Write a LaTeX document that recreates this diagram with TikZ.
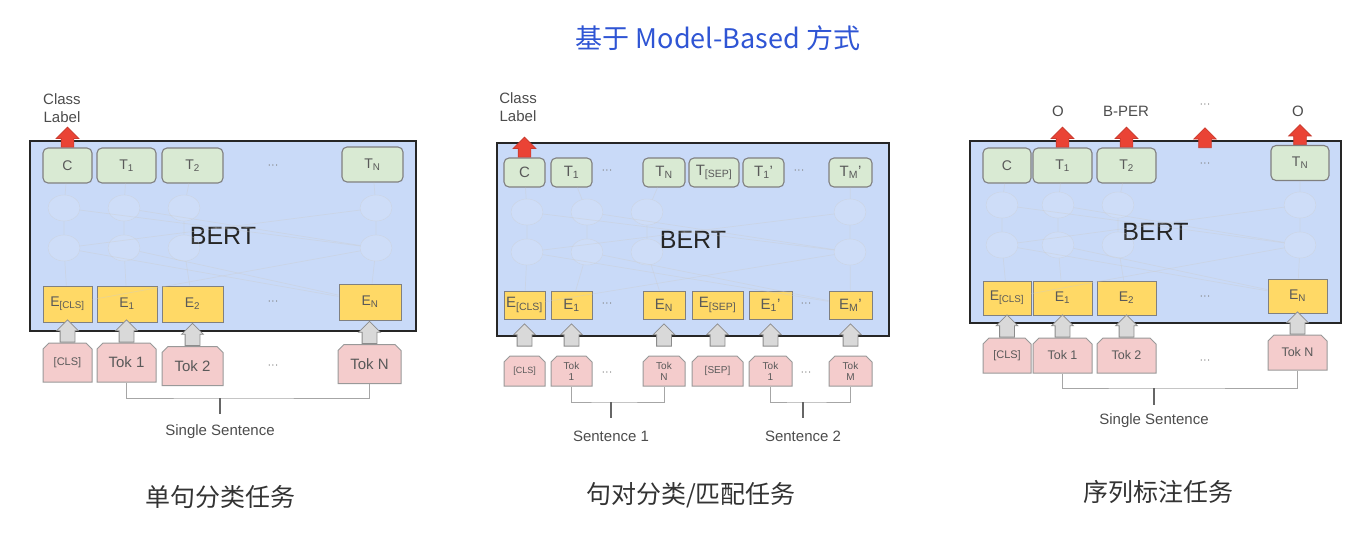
\documentclass[tikz,border=0pt]{standalone}
\usepackage{fontspec}
\setmainfont{Liberation Sans}
\newfontfamily\cjk{Noto Sans CJK SC}
\usetikzlibrary{
	shapes.misc,
	shapes.geometric,
	shapes.arrows,
	calc}

\definecolor{bertblue}{HTML}{C9DAF8}
\definecolor{outgreen}{HTML}{D9EAD3}
\definecolor{embyellow}{HTML}{FFD966}
\definecolor{tokpink}{HTML}{F4CCCC}
\definecolor{labred}{HTML}{EA4335}
\definecolor{titleblue}{HTML}{2F55D4}

\tikzset{
	bert/.style={draw=black!85, line width=2pt, fill=bertblue, text=black!85, font=\fontsize{25}{28}\selectfont},
	outbox/.style={draw=black!50, line width=1.1pt, fill=outgreen, rounded corners=5pt, text=black!65, inner sep=0pt},
	embbox/.style={draw=black!50, line width=1pt, fill=embyellow, text=black!65, inner sep=0pt},
	tokbox/.style={chamfered rectangle, chamfered rectangle corners={north west,north east}, chamfered rectangle xsep=3pt, chamfered rectangle ysep=3pt, draw=black!40, line width=1pt, fill=tokpink, text=black!65, inner sep=0pt, align=center},
	cell/.style={ellipse, draw=black!20, draw opacity=.5, fill=white, fill opacity=.1, minimum width=32pt, minimum height=26pt},
	net/.style={draw=black!20, draw opacity=.4, line width=.7pt},
	garrow/.style={single arrow, shape border rotate=90, draw=black!45, fill=black!15, line width=.8pt, inner sep=7pt, minimum height=20pt, single arrow head extend=3.5pt},
	rarrow/.style={single arrow, shape border rotate=90, draw=labred!85!black, fill=labred, line width=.6pt, inner sep=6pt, minimum height=20pt, single arrow head extend=5pt},
	brk/.style={draw=black!35, line width=1pt},
	stem/.style={draw=black!60, line width=1.6pt},
	lbl/.style={text=black!70, font=\fontsize{15}{18}\selectfont, align=center},
	dots/.style={text=black!50, font=\fontsize{11}{12}\selectfont},
	task/.style={text=black!80, font=\cjk\fontsize{25}{28}\selectfont}
}

\begin{document}
\begin{tikzpicture}[x=1pt,y=-1pt]
	\useasboundingbox (0,0) rectangle (1358,558);

	% Title
	\node[text=titleblue, font=\cjk\fontsize{27}{30}\selectfont] (title) at (718,38) {基于 Model-Based 方式};

	% Single sentence classification
	\node[bert, minimum width=386pt, minimum height=190pt] (s-bert) at (223,236) {BERT};

	\node[outbox, minimum width=49pt, minimum height=35pt, font=\fontsize{14}{16}\selectfont] (s-c)  at (67.5,165.5)  {C};
	\node[outbox, minimum width=59pt, minimum height=35pt, font=\fontsize{14}{16}\selectfont] (s-t1) at (126.5,165.5) {T\textsubscript{1}};
	\node[outbox, minimum width=61pt, minimum height=35pt, font=\fontsize{14}{16}\selectfont] (s-t2) at (192.5,165.5) {T\textsubscript{2}};
	\node[dots] (s-td) at (273,167) {···};
	\node[outbox, minimum width=61pt, minimum height=35pt, font=\fontsize{14}{16}\selectfont] (s-tn) at (372.5,164.5) {T\textsubscript{N}};

	\node[embbox, minimum width=49pt, minimum height=36pt, font=\fontsize{14}{16}\selectfont] (s-e0) at (67.5,304) {E\textsubscript{[CLS]}};
	\node[embbox, minimum width=60pt, minimum height=36pt, font=\fontsize{14}{16}\selectfont] (s-e1) at (127,304)   {E\textsubscript{1}};
	\node[embbox, minimum width=61pt, minimum height=36pt, font=\fontsize{14}{16}\selectfont] (s-e2) at (192.5,304) {E\textsubscript{2}};
	\node[dots] (s-ed) at (273,303) {···};
	\node[embbox, minimum width=62pt, minimum height=36pt, font=\fontsize{14}{16}\selectfont] (s-en) at (370,302)   {E\textsubscript{N}};

	\node[tokbox, minimum width=49pt, minimum height=39pt, font=\fontsize{11}{12}\selectfont] (s-k0) at (67.5,362.5)  {[CLS]};
	\node[tokbox, minimum width=59pt, minimum height=39pt, font=\fontsize{15}{17}\selectfont] (s-k1) at (126.5,362.5) {Tok 1};
	\node[tokbox, minimum width=61pt, minimum height=39pt, font=\fontsize{15}{17}\selectfont] (s-k2) at (192.5,366)   {Tok 2};
	\node[dots] (s-kd) at (273,367) {···};
	\node[tokbox, minimum width=63pt, minimum height=39pt, font=\fontsize{15}{17}\selectfont] (s-kn) at (369.5,364)   {Tok N};

	\node[cell] (s-u0) at (64,208) {};
	\node[cell] (s-u1) at (124,208) {};
	\node[cell] (s-u2) at (184,208) {};
	\node[cell] (s-un) at (376,208) {};
	\node[cell] (s-l0) at (64,248) {};
	\node[cell] (s-l1) at (124,248) {};
	\node[cell] (s-l2) at (184,248) {};
	\node[cell] (s-ln) at (376,248) {};

	\draw[net] (s-c)  -- (s-u0) -- (s-l0) -- (s-e0);
	\draw[net] (s-t1) -- (s-u1) -- (s-l1) -- (s-e1);
	\draw[net] (s-t2) -- (s-u2) -- (s-l2) -- (s-e2);
	\draw[net] (s-tn) -- (s-un) -- (s-ln) -- (s-en);
	\draw[net] (s-u0) -- (s-ln);
	\draw[net] (s-un) -- (s-l0);
	\draw[net] (s-u1) -- (s-ln);
	\draw[net] (s-l0) -- (s-en);
	\draw[net] (s-ln) -- (s-e0);
	\draw[net] (s-l1) -- (s-en);

	\node[garrow, anchor=tail] (s-g0) at (s-k0.north) {};
	\node[garrow, anchor=tail] (s-g1) at (s-k1.north) {};
	\node[garrow, anchor=tail] (s-g2) at (s-k2.north) {};
	\node[garrow, anchor=tail] (s-gn) at (s-kn.north) {};

	\node[rarrow, anchor=tail] (s-r0) at (s-c.north) {};
	\node[lbl] (s-cls) at (62,108) {Class\\Label};

	\coordinate (s-j)  at (220,398);
	\coordinate (s-jb) at (220,414);
	\draw[brk]  (s-k1.south) |- (s-j) -| (s-kn.south);
	\draw[stem] (s-j) -- (s-jb);
	\node[lbl] (s-sent) at (220,432) {Single Sentence};

	\node[task] (s-task) at (220,497) {单句分类任务};

	% Sentence pair classification
	\node[bert, minimum width=392pt, minimum height=193pt] (p-bert) at (693,239.5) {BERT};

	\node[outbox, minimum width=41pt, minimum height=29pt, font=\fontsize{15}{16}\selectfont] (p-c)    at (524.5,172.5) {C};
	\node[outbox, minimum width=41pt, minimum height=29pt, font=\fontsize{15}{16}\selectfont] (p-t1)   at (571.5,172.5) {T\textsubscript{1}};
	\node[dots] (p-td1) at (607,172) {···};
	\node[outbox, minimum width=42pt, minimum height=29pt, font=\fontsize{15}{16}\selectfont] (p-tn)   at (664,172.5)   {T\textsubscript{N}};
	\node[outbox, minimum width=50pt, minimum height=29pt, font=\fontsize{15}{16}\selectfont] (p-tsep) at (714,172.5)   {T\textsubscript{[SEP]}};
	\node[outbox, minimum width=41pt, minimum height=29pt, font=\fontsize{15}{16}\selectfont] (p-t1b)  at (763.5,172.5) {T\textsubscript{1}'};
	\node[dots] (p-td2) at (799,172) {···};
	\node[outbox, minimum width=43pt, minimum height=29pt, font=\fontsize{15}{16}\selectfont] (p-tm)   at (850.5,172.5) {T\textsubscript{M}'};

	\node[embbox, minimum width=41pt, minimum height=28pt, font=\fontsize{15}{16}\selectfont] (p-e0)   at (524.5,305) {E\textsubscript{[CLS]}};
	\node[embbox, minimum width=41pt, minimum height=28pt, font=\fontsize{15}{16}\selectfont] (p-e1)   at (571.5,305) {E\textsubscript{1}};
	\node[dots] (p-ed1) at (607,305) {···};
	\node[embbox, minimum width=42pt, minimum height=28pt, font=\fontsize{15}{16}\selectfont] (p-en)   at (664,305)   {E\textsubscript{N}};
	\node[embbox, minimum width=51pt, minimum height=28pt, font=\fontsize{15}{16}\selectfont] (p-esep) at (717.5,305) {E\textsubscript{[SEP]}};
	\node[embbox, minimum width=43pt, minimum height=28pt, font=\fontsize{15}{16}\selectfont] (p-e1b)  at (770.5,305) {E\textsubscript{1}'};
	\node[dots] (p-ed2) at (806,305) {···};
	\node[embbox, minimum width=43pt, minimum height=28pt, font=\fontsize{15}{16}\selectfont] (p-em)   at (850.5,305) {E\textsubscript{M}'};

	\node[tokbox, minimum width=41pt, minimum height=30pt, font=\fontsize{9}{11}\selectfont]  (p-k0)   at (524.5,371) {[CLS]};
	\node[tokbox, minimum width=41pt, minimum height=30pt, font=\fontsize{10}{11}\selectfont] (p-k1)   at (571.5,371) {Tok\\1};
	\node[dots] (p-kd1) at (607,374) {···};
	\node[tokbox, minimum width=42pt, minimum height=30pt, font=\fontsize{10}{11}\selectfont] (p-kn)   at (664,371)   {Tok\\N};
	\node[tokbox, minimum width=51pt, minimum height=30pt, font=\fontsize{10}{11}\selectfont] (p-ksep) at (717.5,371) {[SEP]};
	\node[tokbox, minimum width=43pt, minimum height=30pt, font=\fontsize{10}{11}\selectfont] (p-k1b)  at (770.5,371) {Tok\\1};
	\node[dots] (p-kd2) at (806,374) {···};
	\node[tokbox, minimum width=43pt, minimum height=30pt, font=\fontsize{10}{11}\selectfont] (p-km)   at (850.5,371) {Tok\\M};

	\node[cell] (p-u0) at (527,212) {};
	\node[cell] (p-u1) at (587,212) {};
	\node[cell] (p-u2) at (647,212) {};
	\node[cell] (p-um) at (850,212) {};
	\node[cell] (p-l0) at (527,252) {};
	\node[cell] (p-l1) at (587,252) {};
	\node[cell] (p-l2) at (647,252) {};
	\node[cell] (p-lm) at (850,252) {};

	\draw[net] (p-c)  -- (p-u0) -- (p-l0) -- (p-e0);
	\draw[net] (p-t1) -- (p-u1) -- (p-l1) -- (p-e1);
	\draw[net] (p-tn) -- (p-u2) -- (p-l2) -- (p-en);
	\draw[net] (p-tm) -- (p-um) -- (p-lm) -- (p-em);
	\draw[net] (p-u0) -- (p-lm);
	\draw[net] (p-um) -- (p-l0);
	\draw[net] (p-u1) -- (p-lm);
	\draw[net] (p-l0) -- (p-em);
	\draw[net] (p-lm) -- (p-e0);
	\draw[net] (p-l1) -- (p-em);

	\node[garrow, anchor=tail] (p-g0)   at ([yshift=9pt]p-k0.north)   {};
	\node[garrow, anchor=tail] (p-g1)   at ([yshift=9pt]p-k1.north)   {};
	\node[garrow, anchor=tail] (p-gn)   at ([yshift=9pt]p-kn.north)   {};
	\node[garrow, anchor=tail] (p-gsep) at ([yshift=9pt]p-ksep.north) {};
	\node[garrow, anchor=tail] (p-g1b)  at ([yshift=9pt]p-k1b.north)  {};
	\node[garrow, anchor=tail] (p-gm)   at ([yshift=9pt]p-km.north)   {};

	\node[rarrow, anchor=tail] (p-r0) at (p-c.north) {};
	\node[lbl] (p-cls) at (518,107) {Class\\Label};

	\coordinate (p-j1)  at (611,402);
	\coordinate (p-j1b) at (611,418);
	\draw[brk]  (p-k1.south) |- (p-j1) -| (p-kn.south);
	\draw[stem] (p-j1) -- (p-j1b);
	\node[lbl] (p-sent1) at (611,436) {Sentence 1};

	\coordinate (p-j2)  at (803,402);
	\coordinate (p-j2b) at (803,418);
	\draw[brk]  (p-k1b.south) |- (p-j2) -| (p-km.south);
	\draw[stem] (p-j2) -- (p-j2b);
	\node[lbl] (p-sent2) at (803,436) {Sentence 2};

	\node[task] (p-task) at (691,495) {句对分类/匹配任务};

	% Sequence labelling
	\node[bert, minimum width=371pt, minimum height=182pt] (q-bert) at (1155.5,232) {BERT};

	\node[outbox, minimum width=48pt, minimum height=35pt, font=\fontsize{14}{16}\selectfont] (q-c)  at (1007,165.5)   {C};
	\node[outbox, minimum width=59pt, minimum height=35pt, font=\fontsize{14}{16}\selectfont] (q-t1) at (1062.5,165.5) {T\textsubscript{1}};
	\node[outbox, minimum width=59pt, minimum height=35pt, font=\fontsize{14}{16}\selectfont] (q-t2) at (1126.5,165.5) {T\textsubscript{2}};
	\node[dots] (q-td) at (1205,165) {···};
	\node[outbox, minimum width=58pt, minimum height=35pt, font=\fontsize{14}{16}\selectfont] (q-tn) at (1300,163)     {T\textsubscript{N}};

	\node[embbox, minimum width=48pt, minimum height=34pt, font=\fontsize{14}{16}\selectfont] (q-e0) at (1007,298)   {E\textsubscript{[CLS]}};
	\node[embbox, minimum width=59pt, minimum height=34pt, font=\fontsize{14}{16}\selectfont] (q-e1) at (1062.5,298) {E\textsubscript{1}};
	\node[embbox, minimum width=59pt, minimum height=34pt, font=\fontsize{14}{16}\selectfont] (q-e2) at (1126.5,298) {E\textsubscript{2}};
	\node[dots] (q-ed) at (1205,298) {···};
	\node[embbox, minimum width=59pt, minimum height=34pt, font=\fontsize{14}{16}\selectfont] (q-en) at (1297.5,296) {E\textsubscript{N}};

	\node[tokbox, minimum width=48pt, minimum height=35pt, font=\fontsize{11}{12}\selectfont]   (q-k0) at (1007,355.5)   {[CLS]};
	\node[tokbox, minimum width=59pt, minimum height=35pt, font=\fontsize{12.5}{14}\selectfont] (q-k1) at (1062.5,355.5) {Tok 1};
	\node[tokbox, minimum width=59pt, minimum height=35pt, font=\fontsize{12.5}{14}\selectfont] (q-k2) at (1126.5,355.5) {Tok 2};
	\node[dots] (q-kd) at (1205,362) {···};
	\node[tokbox, minimum width=59pt, minimum height=35pt, font=\fontsize{12.5}{14}\selectfont] (q-kn) at (1297.5,352.5) {Tok N};

	\node[cell] (q-u0) at (1002,205) {};
	\node[cell] (q-u1) at (1058,205) {};
	\node[cell] (q-u2) at (1118,205) {};
	\node[cell] (q-un) at (1300,205) {};
	\node[cell] (q-l0) at (1002,245) {};
	\node[cell] (q-l1) at (1058,245) {};
	\node[cell] (q-l2) at (1118,245) {};
	\node[cell] (q-ln) at (1300,245) {};

	\draw[net] (q-c)  -- (q-u0) -- (q-l0) -- (q-e0);
	\draw[net] (q-t1) -- (q-u1) -- (q-l1) -- (q-e1);
	\draw[net] (q-t2) -- (q-u2) -- (q-l2) -- (q-e2);
	\draw[net] (q-tn) -- (q-un) -- (q-ln) -- (q-en);
	\draw[net] (q-u0) -- (q-ln);
	\draw[net] (q-un) -- (q-l0);
	\draw[net] (q-u1) -- (q-ln);
	\draw[net] (q-l0) -- (q-en);
	\draw[net] (q-ln) -- (q-e0);
	\draw[net] (q-l1) -- (q-en);

	\node[garrow, anchor=tail] (q-g0) at (q-k0.north) {};
	\node[garrow, anchor=tail] (q-g1) at (q-k1.north) {};
	\node[garrow, anchor=tail] (q-g2) at (q-k2.north) {};
	\node[garrow, anchor=tail] (q-gn) at (q-kn.north) {};

	\coordinate (q-tdt) at (1205,148);
	\node[rarrow, anchor=tail] (q-r1) at (q-t1.north) {};
	\node[rarrow, anchor=tail] (q-r2) at (q-t2.north) {};
	\node[rarrow, anchor=tail] (q-rd) at (q-tdt) {};
	\node[rarrow, anchor=tail] (q-rn) at (q-tn.north) {};
	\node[lbl] (q-o1) at (1058,111) {O};
	\node[lbl] (q-o2) at (1126,111) {B-PER};
	\node[dots] (q-od) at (1205,106) {···};
	\node[lbl] (q-on) at (1298,111) {O};

	\coordinate (q-j)  at (1154,388);
	\coordinate (q-jb) at (1154,405);
	\draw[brk]  (q-k1.south) |- (q-j) -| (q-kn.south);
	\draw[stem] (q-j) -- (q-jb);
	\node[lbl] (q-sent) at (1154,421) {Single Sentence};

	\node[task] (q-task) at (1158,492) {序列标注任务};

\end{tikzpicture}
\end{document}
